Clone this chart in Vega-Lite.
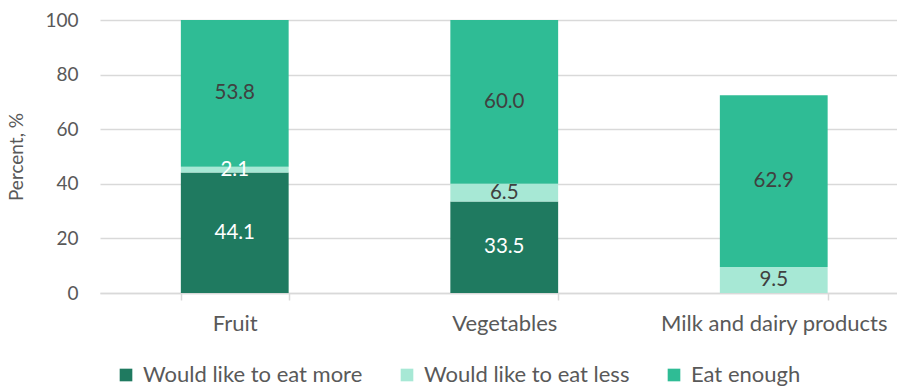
{
  "$schema": "https://vega.github.io/schema/vega-lite/v6.json",
  "autosize": "none",
  "width": 797,
  "height": 273,
  "padding": {"left": 100, "top": 20, "right": 0, "bottom": 97},
  "background": "white",
  "config": {
    "font": "Lato",
    "view": {"stroke": null}
  },
  "data": {
    "values": [
      {"food": "Fruit", "answer": "Would like to eat more", "order": 1, "value": 44.1},
      {"food": "Fruit", "answer": "Would like to eat less", "order": 2, "value": 2.1},
      {"food": "Fruit", "answer": "Eat enough", "order": 3, "value": 53.8},
      {"food": "Vegetables", "answer": "Would like to eat more", "order": 1, "value": 33.5},
      {"food": "Vegetables", "answer": "Would like to eat less", "order": 2, "value": 6.5},
      {"food": "Vegetables", "answer": "Eat enough", "order": 3, "value": 60.0},
      {"food": "Milk and dairy products", "answer": "Would like to eat less", "order": 2, "value": 9.5},
      {"food": "Milk and dairy products", "answer": "Eat enough", "order": 3, "value": 62.9}
    ]
  },
  "transform": [
    {"stack": "value", "groupby": ["food"], "sort": [{"field": "order"}], "as": ["v0", "v1"]},
    {"calculate": "(datum.v0 + datum.v1) / 2", "as": "mid"}
  ],
  "encoding": {
    "x": {
      "field": "food",
      "type": "nominal",
      "sort": ["Fruit", "Vegetables", "Milk and dairy products"],
      "scale": {"range": [0, 808.5], "paddingInner": 0.6, "paddingOuter": 0.3},
      "axis": {
        "title": null,
        "labelAngle": 0,
        "labelFontSize": 22,
        "labelColor": "#595959",
        "labelPadding": 13,
        "labelLimit": 0,
        "domainColor": "#d9d9d9",
        "domainWidth": 1.5,
        "tickColor": "#d9d9d9",
        "tickWidth": 1.5,
        "tickSize": 7,
        "tickBand": "extent"
      }
    }
  },
  "layer": [
    {
      "mark": {"type": "bar"},
      "encoding": {
        "y": {
          "field": "v1",
          "type": "quantitative",
          "scale": {"domain": [0, 100]},
          "axis": {
            "title": "Percent, %",
            "titleFontSize": 19,
            "titleFontWeight": "normal",
            "titleColor": "#595959",
            "titlePadding": 18,
            "values": [0, 20, 40, 60, 80, 100],
            "labelFontSize": 19,
            "labelColor": "#595959",
            "labelPadding": 22,
            "tickSize": 0,
            "domain": false,
            "gridColor": "#d9d9d9",
            "gridWidth": 1.5
          }
        },
        "y2": {"field": "v0"},
        "color": {
          "field": "answer",
          "type": "nominal",
          "sort": ["Would like to eat more", "Would like to eat less", "Eat enough"],
          "scale": {
            "domain": ["Would like to eat more", "Would like to eat less", "Eat enough"],
            "range": ["#1f7a60", "#a7e8d5", "#2fbc95"]
          },
          "legend": {
            "title": null,
            "orient": "none",
            "direction": "horizontal",
            "legendX": 15,
            "legendY": 344,
            "symbolType": "square",
            "symbolSize": 160,
            "symbolStrokeWidth": 0,
            "labelFontSize": 22,
            "labelColor": "#595959",
            "labelOffset": 6,
            "labelLimit": 0,
            "columnPadding": 33
          }
        }
      }
    },
    {
      "mark": {"type": "text", "fontSize": 20.5, "baseline": "middle", "align": "center"},
      "encoding": {
        "y": {"field": "mid", "type": "quantitative"},
        "text": {"field": "value", "type": "quantitative", "format": ".1f"},
        "color": {
          "condition": {"test": "datum.answer === 'Would like to eat more' || datum.value < 3", "value": "white"},
          "value": "#404040"
        }
      }
    }
  ]
}
